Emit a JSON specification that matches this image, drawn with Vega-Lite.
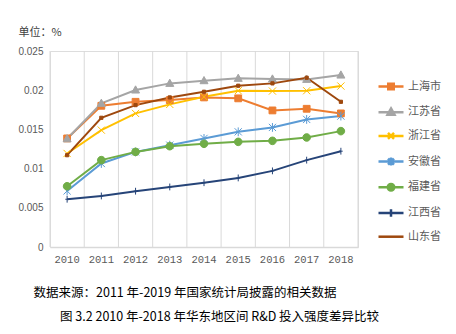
{
  "$schema": "https://vega.github.io/schema/vega-lite/v6.json",
  "width": 308,
  "height": 196,
  "autosize": {"type": "none"},
  "padding": {"left": 50, "top": 51, "right": 98, "bottom": 87},
  "background": "white",
  "title": {
    "text": "图 3.2  2010 年-2018 年华东地区间 R&D 投入强度差异比较",
    "orient": "bottom", "anchor": "start", "frame": "group", "dx": 10, "offset": 12,
    "font": "Noto Sans CJK SC", "fontSize": 12.5, "fontWeight": "normal", "color": "#000000"
  },
  "resolve": {"scale": {"fill": "independent", "stroke": "independent", "shape": "independent"}},
  "data": {"values": [
    {"year": "2010", "series": "上海市", "value": 0.01385},
    {"year": "2011", "series": "上海市", "value": 0.01801},
    {"year": "2012", "series": "上海市", "value": 0.01852},
    {"year": "2013", "series": "上海市", "value": 0.01874},
    {"year": "2014", "series": "上海市", "value": 0.01908},
    {"year": "2015", "series": "上海市", "value": 0.01896},
    {"year": "2016", "series": "上海市", "value": 0.01742},
    {"year": "2017", "series": "上海市", "value": 0.01763},
    {"year": "2018", "series": "上海市", "value": 0.01704},
    {"year": "2010", "series": "江苏省", "value": 0.0138},
    {"year": "2011", "series": "江苏省", "value": 0.01832},
    {"year": "2012", "series": "江苏省", "value": 0.02002},
    {"year": "2013", "series": "江苏省", "value": 0.02087},
    {"year": "2014", "series": "江苏省", "value": 0.02121},
    {"year": "2015", "series": "江苏省", "value": 0.02151},
    {"year": "2016", "series": "江苏省", "value": 0.02142},
    {"year": "2017", "series": "江苏省", "value": 0.02138},
    {"year": "2018", "series": "江苏省", "value": 0.02193},
    {"year": "2010", "series": "浙江省", "value": 0.01193},
    {"year": "2011", "series": "浙江省", "value": 0.01491},
    {"year": "2012", "series": "浙江省", "value": 0.01704},
    {"year": "2013", "series": "浙江省", "value": 0.01819},
    {"year": "2014", "series": "浙江省", "value": 0.01916},
    {"year": "2015", "series": "浙江省", "value": 0.01993},
    {"year": "2016", "series": "浙江省", "value": 0.01989},
    {"year": "2017", "series": "浙江省", "value": 0.01993},
    {"year": "2018", "series": "浙江省", "value": 0.02053},
    {"year": "2010", "series": "安徽省", "value": 0.00715},
    {"year": "2011", "series": "安徽省", "value": 0.01065},
    {"year": "2012", "series": "安徽省", "value": 0.01213},
    {"year": "2013", "series": "安徽省", "value": 0.01299},
    {"year": "2014", "series": "安徽省", "value": 0.01385},
    {"year": "2015", "series": "安徽省", "value": 0.01469},
    {"year": "2016", "series": "安徽省", "value": 0.01525},
    {"year": "2017", "series": "安徽省", "value": 0.01627},
    {"year": "2018", "series": "安徽省", "value": 0.0167},
    {"year": "2010", "series": "福建省", "value": 0.00775},
    {"year": "2011", "series": "福建省", "value": 0.01108},
    {"year": "2012", "series": "福建省", "value": 0.01213},
    {"year": "2013", "series": "福建省", "value": 0.01286},
    {"year": "2014", "series": "福建省", "value": 0.01316},
    {"year": "2015", "series": "福建省", "value": 0.01341},
    {"year": "2016", "series": "福建省", "value": 0.01354},
    {"year": "2017", "series": "福建省", "value": 0.01397},
    {"year": "2018", "series": "福建省", "value": 0.01478},
    {"year": "2010", "series": "江西省", "value": 0.00609},
    {"year": "2011", "series": "江西省", "value": 0.00651},
    {"year": "2012", "series": "江西省", "value": 0.00712},
    {"year": "2013", "series": "江西省", "value": 0.00766},
    {"year": "2014", "series": "江西省", "value": 0.0082},
    {"year": "2015", "series": "江西省", "value": 0.00881},
    {"year": "2016", "series": "江西省", "value": 0.00971},
    {"year": "2017", "series": "江西省", "value": 0.01108},
    {"year": "2018", "series": "江西省", "value": 0.01222},
    {"year": "2010", "series": "山东省", "value": 0.01171},
    {"year": "2011", "series": "山东省", "value": 0.01648},
    {"year": "2012", "series": "山东省", "value": 0.0181},
    {"year": "2013", "series": "山东省", "value": 0.01908},
    {"year": "2014", "series": "山东省", "value": 0.0198},
    {"year": "2015", "series": "山东省", "value": 0.02057},
    {"year": "2016", "series": "山东省", "value": 0.02087},
    {"year": "2017", "series": "山东省", "value": 0.02159},
    {"year": "2018", "series": "山东省", "value": 0.01852}
  ]},
  "layer": [
    {
      "transform": [{"filter": "datum.series === '上海市'"}],
      "mark": {"type": "rule", "color": "#D9D9D9", "strokeWidth": 1},
      "encoding": {
        "x": {
          "field": "year", "type": "ordinal", "bandPosition": 0,
          "scale": {"type": "band", "paddingInner": 0, "paddingOuter": 0},
          "axis": {
            "title": "数据来源：2011 年-2019 年国家统计局披露的相关数据", "bandPosition": 0.5,
            "labelAngle": 0, "ticks": false, "grid": false,
            "domainColor": "#D9D9D9", "domainWidth": 1.5,
            "labelFont": "Liberation Mono", "labelFontSize": 10.5, "labelColor": "#595959", "labelPadding": 7,
            "titleX": -17, "titleY": 45, "titleAlign": "left", "titleBaseline": "middle",
            "titleFont": "Noto Sans CJK SC", "titleFontSize": 12.5, "titleFontWeight": "normal", "titleColor": "#000000"
          }
        },
        "y": {
          "datum": 0, "type": "quantitative",
          "scale": {"domain": [0, 0.025], "nice": false},
          "axis": {
            "title": "单位：%", "titleAngle": 0, "titleX": -32, "titleY": -19, "titleAlign": "left", "titleBaseline": "middle",
            "titleFont": "Noto Sans CJK SC", "titleFontSize": 11, "titleFontWeight": "normal", "titleColor": "#404040",
            "values": [0, 0.005, 0.01, 0.015, 0.02, 0.025], "format": "~f",
            "grid": false, "ticks": false, "domain": false, "labelPadding": 7,
            "labelFont": "Liberation Sans", "labelFontSize": 10, "labelColor": "#595959"
          }
        },
        "y2": {"datum": 0.025}
      }
    },
    {
      "transform": [{"filter": "datum.series === '上海市' && datum.year === '2018'"}],
      "mark": {"type": "rule", "color": "#D9D9D9", "strokeWidth": 1},
      "encoding": {
        "x": {
          "field": "year", "type": "ordinal", "bandPosition": 1,
          "axis": {
            "title": "数据来源：2011 年-2019 年国家统计局披露的相关数据", "bandPosition": 0.5,
            "labelAngle": 0, "ticks": false, "grid": false,
            "domainColor": "#D9D9D9", "domainWidth": 1.5,
            "labelFont": "Liberation Mono", "labelFontSize": 10.5, "labelColor": "#595959", "labelPadding": 7,
            "titleX": -17, "titleY": 45, "titleAlign": "left", "titleBaseline": "middle",
            "titleFont": "Noto Sans CJK SC", "titleFontSize": 12.5, "titleFontWeight": "normal", "titleColor": "#000000"
          }
        },
        "y": {
          "datum": 0, "type": "quantitative",
          "axis": {
            "title": "单位：%", "titleAngle": 0, "titleX": -32, "titleY": -19, "titleAlign": "left", "titleBaseline": "middle",
            "titleFont": "Noto Sans CJK SC", "titleFontSize": 11, "titleFontWeight": "normal", "titleColor": "#404040",
            "values": [0, 0.005, 0.01, 0.015, 0.02, 0.025], "format": "~f",
            "grid": false, "ticks": false, "domain": false, "labelPadding": 7,
            "labelFont": "Liberation Sans", "labelFontSize": 10, "labelColor": "#595959"
          }
        },
        "y2": {"datum": 0.025}
      }
    },
    {
      "mark": {"type": "line", "strokeWidth": 2},
      "encoding": {
        "x": {
          "field": "year", "type": "ordinal",
          "axis": {
            "title": "数据来源：2011 年-2019 年国家统计局披露的相关数据", "bandPosition": 0.5,
            "labelAngle": 0, "ticks": false, "grid": false,
            "domainColor": "#D9D9D9", "domainWidth": 1.5,
            "labelFont": "Liberation Mono", "labelFontSize": 10.5, "labelColor": "#595959", "labelPadding": 7,
            "titleX": -17, "titleY": 45, "titleAlign": "left", "titleBaseline": "middle",
            "titleFont": "Noto Sans CJK SC", "titleFontSize": 12.5, "titleFontWeight": "normal", "titleColor": "#000000"
          }
        },
        "y": {
          "field": "value", "type": "quantitative",
          "axis": {
            "title": "单位：%", "titleAngle": 0, "titleX": -32, "titleY": -19, "titleAlign": "left", "titleBaseline": "middle",
            "titleFont": "Noto Sans CJK SC", "titleFontSize": 11, "titleFontWeight": "normal", "titleColor": "#404040",
            "values": [0, 0.005, 0.01, 0.015, 0.02, 0.025], "format": "~f",
            "grid": false, "ticks": false, "domain": false, "labelPadding": 7,
            "labelFont": "Liberation Sans", "labelFontSize": 10, "labelColor": "#595959"
          }
        },
        "color": {
          "field": "series", "type": "nominal",
          "scale": {
            "domain": ["上海市", "江苏省", "浙江省", "安徽省", "福建省", "江西省", "山东省"],
            "range": ["#ED7D31", "#A5A5A5", "#FFC000", "#5B9BD5", "#70AD47", "#264478", "#9E480E"]
          },
          "legend": null
        }
      }
    },
    {
      "mark": {"type": "point", "filled": true, "size": 64, "strokeWidth": 1, "opacity": 1},
      "encoding": {
        "x": {
          "field": "year", "type": "ordinal",
          "axis": {
            "title": "数据来源：2011 年-2019 年国家统计局披露的相关数据", "bandPosition": 0.5,
            "labelAngle": 0, "ticks": false, "grid": false,
            "domainColor": "#D9D9D9", "domainWidth": 1.5,
            "labelFont": "Liberation Mono", "labelFontSize": 10.5, "labelColor": "#595959", "labelPadding": 7,
            "titleX": -17, "titleY": 45, "titleAlign": "left", "titleBaseline": "middle",
            "titleFont": "Noto Sans CJK SC", "titleFontSize": 12.5, "titleFontWeight": "normal", "titleColor": "#000000"
          }
        },
        "y": {
          "field": "value", "type": "quantitative",
          "axis": {
            "title": "单位：%", "titleAngle": 0, "titleX": -32, "titleY": -19, "titleAlign": "left", "titleBaseline": "middle",
            "titleFont": "Noto Sans CJK SC", "titleFontSize": 11, "titleFontWeight": "normal", "titleColor": "#404040",
            "values": [0, 0.005, 0.01, 0.015, 0.02, 0.025], "format": "~f",
            "grid": false, "ticks": false, "domain": false, "labelPadding": 7,
            "labelFont": "Liberation Sans", "labelFontSize": 10, "labelColor": "#595959"
          }
        },
        "fill": {
          "field": "series", "type": "nominal",
          "scale": {
            "domain": ["上海市", "江苏省", "浙江省", "安徽省", "福建省", "江西省", "山东省"],
            "range": ["#ED7D31", "#A5A5A5", "#FFC000", "#5B9BD5", "#70AD47", "#264478", "#9E480E"]
          },
          "legend": null
        },
        "stroke": {
          "field": "series", "type": "nominal",
          "scale": {
            "domain": ["上海市", "江苏省", "浙江省", "安徽省", "福建省", "江西省", "山东省"],
            "range": ["#ED7D31", "#A5A5A5", "#FFC000", "#5B9BD5", "#70AD47", "#264478", "#9E480E"]
          },
          "legend": null
        },
        "shape": {
          "field": "series", "type": "nominal",
          "scale": {
            "domain": ["上海市", "江苏省", "浙江省", "安徽省", "福建省", "江西省", "山东省"],
            "range": [
              "M-0.85,-0.85H0.85V0.85H-0.85Z",
              "M0,-1.05L1,0.75H-1Z",
              "M-0.9,-0.9L0.9,0.9M-0.9,0.9L0.9,-0.9",
              "M-0.9,-0.9L0.9,0.9M-0.9,0.9L0.9,-0.9M0,-1.1V1.1",
              "M-0.95,0A0.95,0.95,0,1,0,0.95,0A0.95,0.95,0,1,0,-0.95,0Z",
              "M0,-0.85V0.85M-0.45,0H0.45",
              "M-0.4,-0.4H0.4V0.4H-0.4Z"
            ]
          },
          "legend": null
        }
      }
    },
    {
      "transform": [{"filter": "false"}],
      "mark": {"type": "point", "filled": true, "size": 100, "strokeWidth": 2.5, "opacity": 1},
      "encoding": {
        "x": {
          "field": "year", "type": "ordinal",
          "axis": {
            "title": "数据来源：2011 年-2019 年国家统计局披露的相关数据", "bandPosition": 0.5,
            "labelAngle": 0, "ticks": false, "grid": false,
            "domainColor": "#D9D9D9", "domainWidth": 1.5,
            "labelFont": "Liberation Mono", "labelFontSize": 10.5, "labelColor": "#595959", "labelPadding": 7,
            "titleX": -17, "titleY": 45, "titleAlign": "left", "titleBaseline": "middle",
            "titleFont": "Noto Sans CJK SC", "titleFontSize": 12.5, "titleFontWeight": "normal", "titleColor": "#000000"
          }
        },
        "y": {
          "field": "value", "type": "quantitative",
          "axis": {
            "title": "单位：%", "titleAngle": 0, "titleX": -32, "titleY": -19, "titleAlign": "left", "titleBaseline": "middle",
            "titleFont": "Noto Sans CJK SC", "titleFontSize": 11, "titleFontWeight": "normal", "titleColor": "#404040",
            "values": [0, 0.005, 0.01, 0.015, 0.02, 0.025], "format": "~f",
            "grid": false, "ticks": false, "domain": false, "labelPadding": 7,
            "labelFont": "Liberation Sans", "labelFontSize": 10, "labelColor": "#595959"
          }
        },
        "fill": {
          "field": "series", "type": "nominal",
          "scale": {
            "domain": ["上海市", "江苏省", "浙江省", "安徽省", "福建省", "江西省", "山东省"],
            "range": ["#ED7D31", "#A5A5A5", "#FFC000", "#5B9BD5", "#70AD47", "#264478", "#9E480E"]
          },
          "legend": {
            "orient": "none", "legendX": 334.5, "legendY": 29, "title": null,
            "symbolSize": 100, "symbolStrokeWidth": 2.5,
            "rowPadding": 7.7, "labelOffset": 10.5,
            "labelFont": "Noto Sans CJK SC", "labelFontSize": 11, "labelColor": "#595959"
          }
        },
        "stroke": {
          "field": "series", "type": "nominal",
          "scale": {
            "domain": ["上海市", "江苏省", "浙江省", "安徽省", "福建省", "江西省", "山东省"],
            "range": ["#ED7D31", "#A5A5A5", "#FFC000", "#5B9BD5", "#70AD47", "#264478", "#9E480E"]
          },
          "legend": {
            "orient": "none", "legendX": 334.5, "legendY": 29, "title": null,
            "symbolSize": 100, "symbolStrokeWidth": 2.5,
            "rowPadding": 7.7, "labelOffset": 10.5,
            "labelFont": "Noto Sans CJK SC", "labelFontSize": 11, "labelColor": "#595959"
          }
        },
        "shape": {
          "field": "series", "type": "nominal",
          "scale": {
            "domain": ["上海市", "江苏省", "浙江省", "安徽省", "福建省", "江西省", "山东省"],
            "range": [
              "M-2.5,0H2.5M-0.55,-0.55H0.55V0.55H-0.55Z",
              "M-2.5,0H2.5M0,-0.75L0.7,0.5H-0.7Z",
              "M-2.5,0H2.5M-0.6,-0.6L0.6,0.6M-0.6,0.6L0.6,-0.6",
              "M-2.5,0H2.5M-0.6,-0.6L0.6,0.6M-0.6,0.6L0.6,-0.6M0,-0.8V0.8",
              "M-2.5,0H2.5M-0.65,0A0.65,0.65,0,1,0,0.65,0A0.65,0.65,0,1,0,-0.65,0Z",
              "M-2.5,0H2.5M0,-0.75V0.75",
              "M-2.5,0H2.5"
            ]
          },
          "legend": {
            "orient": "none", "legendX": 334.5, "legendY": 29, "title": null,
            "symbolSize": 100, "symbolStrokeWidth": 2.5,
            "rowPadding": 7.7, "labelOffset": 10.5,
            "labelFont": "Noto Sans CJK SC", "labelFontSize": 11, "labelColor": "#595959"
          }
        }
      }
    }
  ]
}
